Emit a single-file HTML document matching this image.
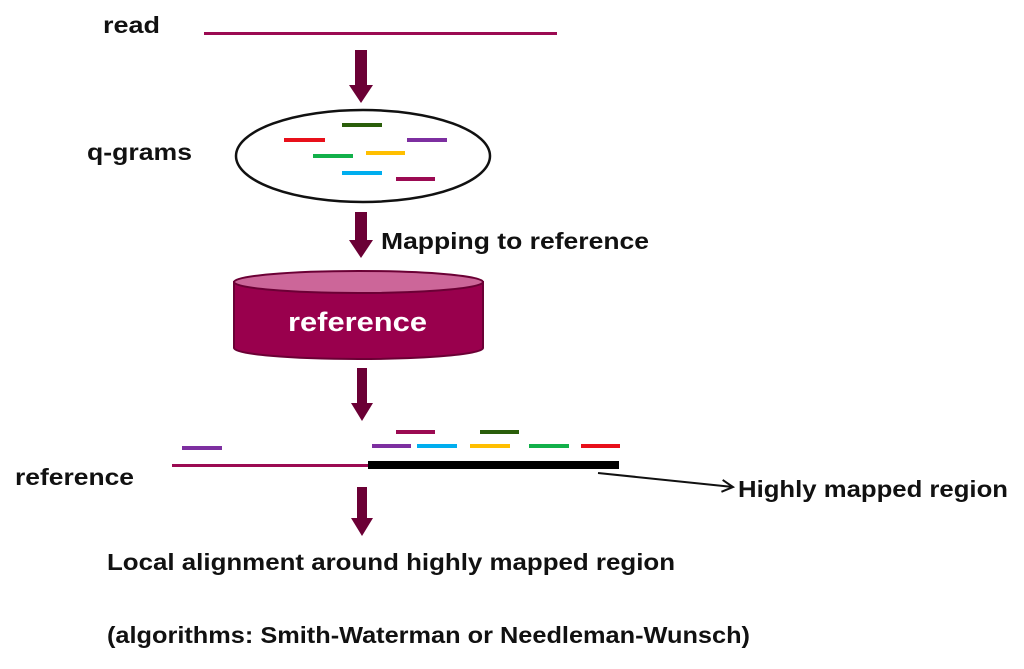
<!DOCTYPE html>
<html><head><meta charset="utf-8"><style>
html,body{margin:0;padding:0;background:#fff;width:1024px;height:669px;overflow:hidden}
svg{display:block}
text{font-family:"Liberation Sans",sans-serif;fill:#111;font-weight:bold}
</style></head><body>
<svg width="1024" height="669" viewBox="0 0 1024 669" xmlns="http://www.w3.org/2000/svg">
<defs>
<marker id="oa" markerWidth="14" markerHeight="14" refX="12" refY="7" orient="auto" markerUnits="userSpaceOnUse">
<path d="M1,1 L12,7 L1,13" fill="none" stroke="#111" stroke-width="2"/>
</marker>
</defs>
<text x="103" y="33" font-size="23" textLength="57" lengthAdjust="spacingAndGlyphs">read</text>
<text x="87" y="160" font-size="23" textLength="105" lengthAdjust="spacingAndGlyphs">q-grams</text>
<text x="381" y="249" font-size="23" textLength="268" lengthAdjust="spacingAndGlyphs">Mapping to reference</text>
<text x="15" y="485" font-size="23" textLength="119" lengthAdjust="spacingAndGlyphs">reference</text>
<text x="738" y="497" font-size="23" textLength="270" lengthAdjust="spacingAndGlyphs">Highly mapped region</text>
<text x="107" y="570" font-size="23" textLength="568" lengthAdjust="spacingAndGlyphs">Local alignment around highly mapped region</text>
<text x="107" y="643" font-size="23" textLength="643" lengthAdjust="spacingAndGlyphs">(algorithms: Smith-Waterman or Needleman-Wunsch)</text>

<rect x="204" y="32" width="353" height="3" fill="#9b0a52"/>

<g fill="#6b0035">
<path d="M355,50 H367 V85 H373 L361,103 L349,85 H355 Z"/>
<path d="M355,212 H367 V240 H373 L361,258 L349,240 H355 Z"/>
<path d="M357,368 H367 V403 H373 L362,421 L351,403 H357 Z"/>
<path d="M357,487 H367 V518 H373 L362,536 L351,518 H357 Z"/>
</g>

<ellipse cx="363" cy="156" rx="127" ry="46" fill="#fff" stroke="#111" stroke-width="2.5"/>
<g>
<rect x="342" y="123" width="40" height="4" fill="#2a5e0a"/>
<rect x="284" y="138" width="41" height="4" fill="#e8101a"/>
<rect x="407" y="138" width="40" height="4" fill="#7d2fa0"/>
<rect x="313" y="154" width="40" height="4" fill="#12b04a"/>
<rect x="366" y="151" width="39" height="4" fill="#ffbf00"/>
<rect x="342" y="171" width="40" height="4" fill="#00aeef"/>
<rect x="396" y="177" width="39" height="4" fill="#9b0a52"/>
</g>

<path d="M234,282 V348 A124.5,11 0 0 0 483,348 V282 Z" fill="#99004d" stroke="#6b0035" stroke-width="2"/>
<ellipse cx="358.5" cy="282" rx="124.5" ry="11" fill="#cc6699" stroke="#6b0035" stroke-width="2"/>
<text x="288" y="331" font-size="27" textLength="139" lengthAdjust="spacingAndGlyphs" style="fill:#fff">reference</text>

<rect x="396" y="430" width="39" height="4" fill="#9b0a52"/>
<rect x="480" y="430" width="39" height="4" fill="#2a5e0a"/>
<rect x="372" y="444" width="39" height="4" fill="#7d2fa0"/>
<rect x="417" y="444" width="40" height="4" fill="#00aeef"/>
<rect x="470" y="444" width="40" height="4" fill="#ffbf00"/>
<rect x="529" y="444" width="40" height="4" fill="#12b04a"/>
<rect x="581" y="444" width="39" height="4" fill="#e8101a"/>
<rect x="182" y="446" width="40" height="4" fill="#7d2fa0"/>

<rect x="172" y="464" width="196" height="3" fill="#9b0a52"/>
<rect x="368" y="461" width="251" height="8" fill="#000"/>

<line x1="598" y1="473" x2="733" y2="487" stroke="#111" stroke-width="2" marker-end="url(#oa)"/>
</svg>
</body></html>
